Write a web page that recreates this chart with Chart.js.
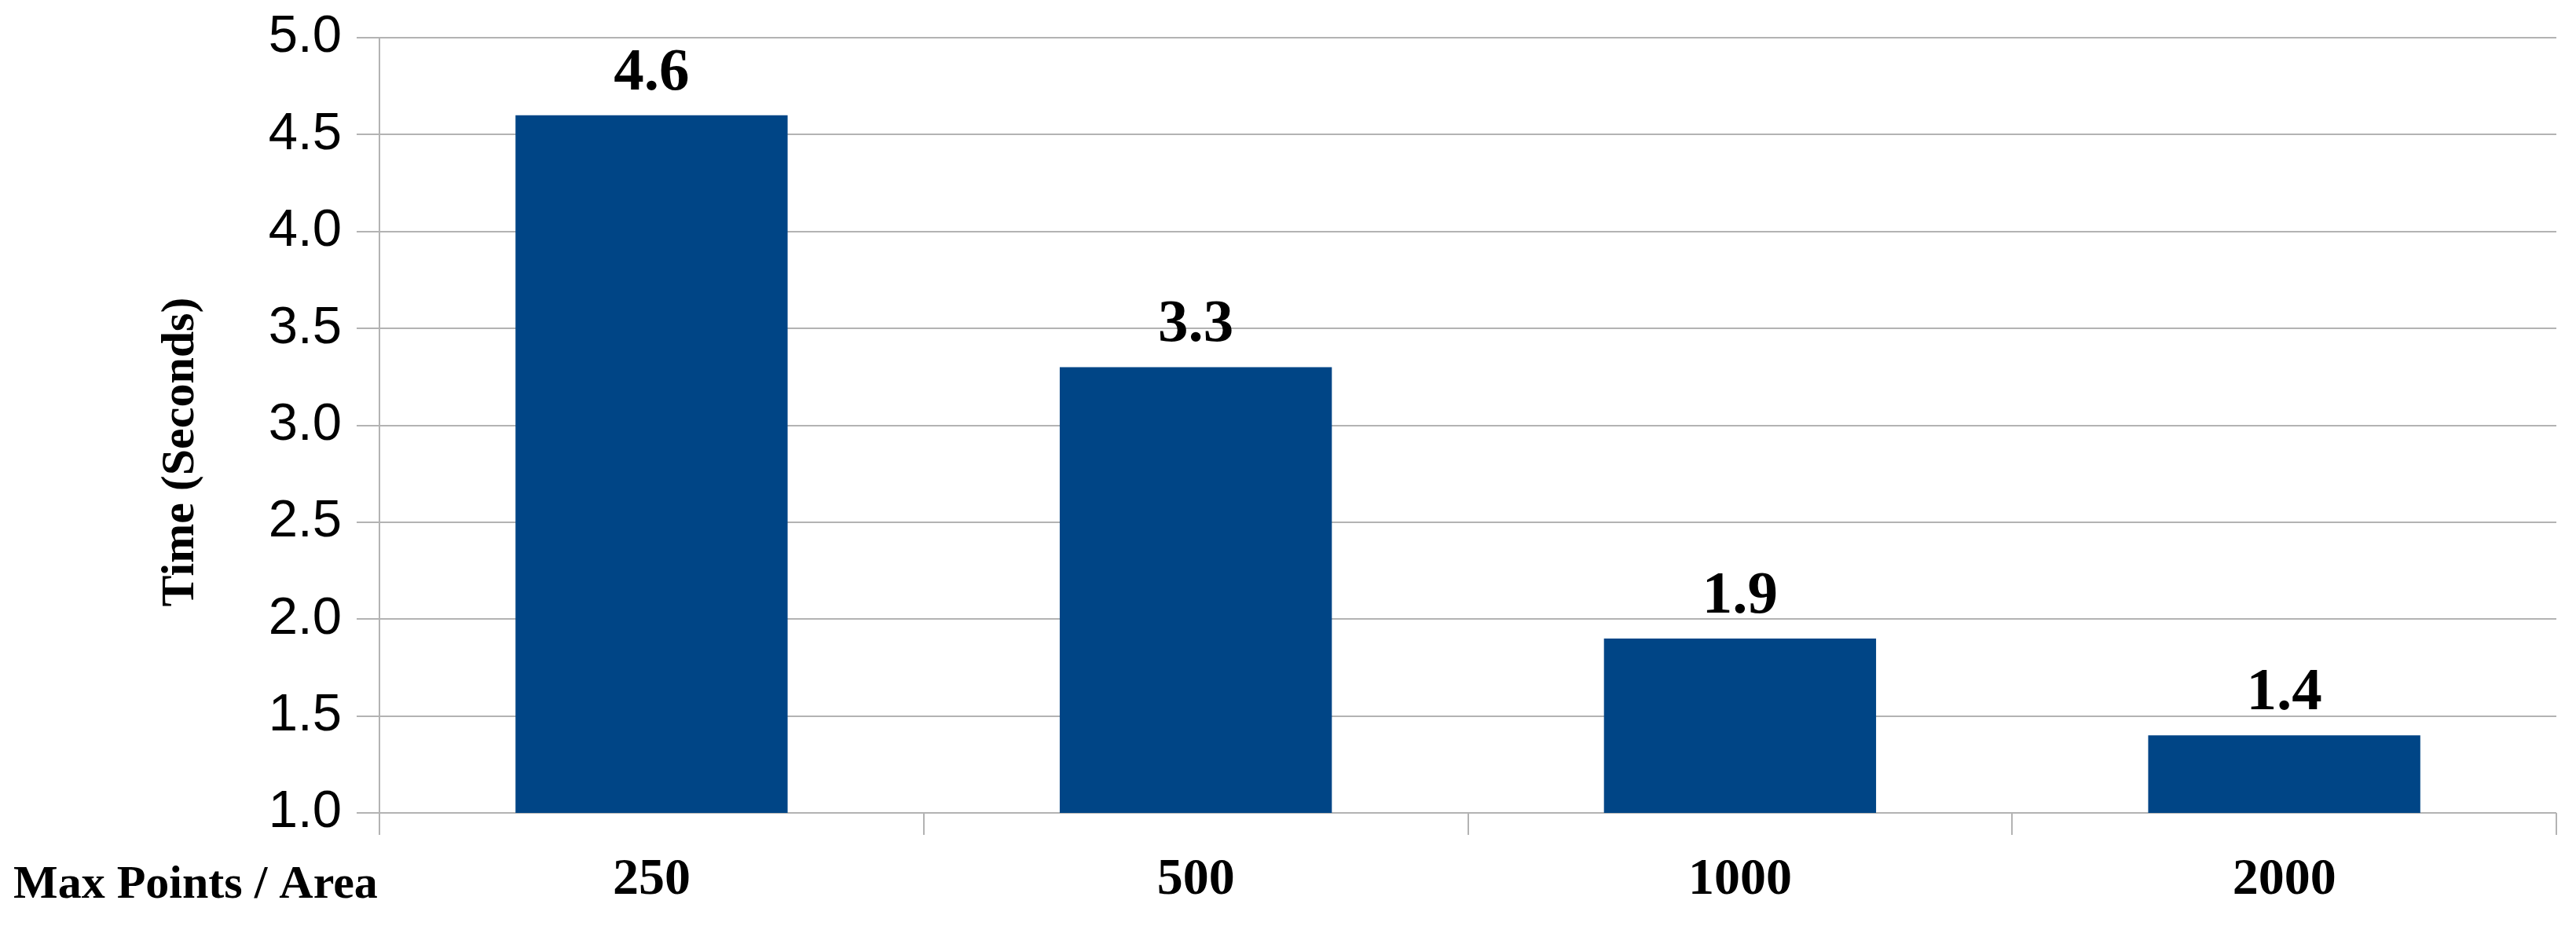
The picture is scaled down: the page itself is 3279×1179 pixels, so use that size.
<!DOCTYPE html>
<html>
<head>
<meta charset="utf-8">
<script src="https://cdn.jsdelivr.net/npm/chart.js@4/dist/chart.umd.min.js"></script>
<style>
  html, body { margin: 0; padding: 0; background: #fff; overflow: hidden; }
  #wrap { width: 3279px; height: 1179px; }
</style>
</head>
<body>
<div id="wrap"><canvas id="timeChart" width="3279" height="1179"></canvas></div>
<script>
// values
const categories = ['250', '500', '1000', '2000'];
const times = [4.6, 3.3, 1.9, 1.4];
const yMin = 1.0;
const yMax = 5.0;
const yStep = 0.5;

const yTitle = 'Time (Seconds)';
const xTitle = 'Max Points / Area';

const barColor = '#004586';
const lineColor = '#b3b3b3';
const titleFont = 'bold 60px "Liberation Serif", "Times New Roman", serif';

// draws the value above each bar and the two axis titles
const labelPlugin = {
    id: 'labelPlugin',
    afterDatasetsDraw(chart) {
        const ctx = chart.ctx;
        const meta = chart.getDatasetMeta(0);
        ctx.save();
        ctx.fillStyle = '#000';
        ctx.textAlign = 'center';
        ctx.textBaseline = 'alphabetic';
        ctx.font = 'bold 77px "Liberation Serif", "Times New Roman", serif';
        meta.data.forEach((bar, i) => {
            ctx.fillText(times[i].toFixed(1), bar.x, bar.y - 33);
        });
        ctx.restore();
    },
    afterDraw(chart) {
        const ctx = chart.ctx;
        const area = chart.chartArea;
        ctx.save();
        ctx.fillStyle = '#000';
        ctx.font = titleFont;

        // x axis title, sits left of the first category label
        ctx.textAlign = 'left';
        ctx.textBaseline = 'alphabetic';
        ctx.fillText(xTitle, 17, area.bottom + 108);

        // y axis title, rotated
        ctx.translate(230, (area.top + area.bottom) / 2 + 34);
        ctx.rotate(-Math.PI / 2);
        ctx.textAlign = 'center';
        ctx.textBaseline = 'middle';
        ctx.fillText(yTitle, 0, 0);
        ctx.restore();
    }
};

const chart = new Chart(document.getElementById('timeChart'), {
    type: 'bar',
    data: {
        labels: categories,
        datasets: [{
            data: times,
            backgroundColor: barColor,
            borderWidth: 0,
            barPercentage: 0.5,
            categoryPercentage: 1.0
        }]
    },
    options: {
        responsive: false,
        animation: false,
        events: [],
        layout: {
            padding: { top: 48, right: 25, bottom: 19, left: 0 }
        },
        plugins: {
            legend: { display: false },
            tooltip: { enabled: false },
            title: { display: false }
        },
        scales: {
            x: {
                offset: true,
                afterFit: s => { s.height = 125; },
                grid: {
                    offset: true,
                    drawOnChartArea: true,
                    // only the outer frame lines go through the plot, inner ones are just ticks
                    color: c => (c.index === 0 || c.index === categories.length) ? lineColor : 'rgba(0,0,0,0)',
                    tickColor: lineColor,
                    tickLength: 28,
                    lineWidth: 2
                },
                border: { display: false },
                ticks: {
                    color: '#000',
                    padding: 18,
                    font: { family: '"Liberation Serif", "Times New Roman", serif', size: 66, weight: 'bold' }
                }
            },
            y: {
                min: yMin,
                max: yMax,
                afterFit: s => { s.width = 483; },
                grid: {
                    color: lineColor,
                    tickColor: lineColor,
                    tickLength: 29,
                    lineWidth: 2
                },
                border: { display: true, color: lineColor, width: 2 },
                ticks: {
                    stepSize: yStep,
                    color: '#000',
                    padding: 19,
                    font: { family: '"Liberation Sans", Arial, sans-serif', size: 67, lineHeight: 0.8 },
                    callback: v => Number(v).toFixed(1)
                }
            }
        }
    },
    plugins: [labelPlugin]
});
</script>
</body>
</html>
